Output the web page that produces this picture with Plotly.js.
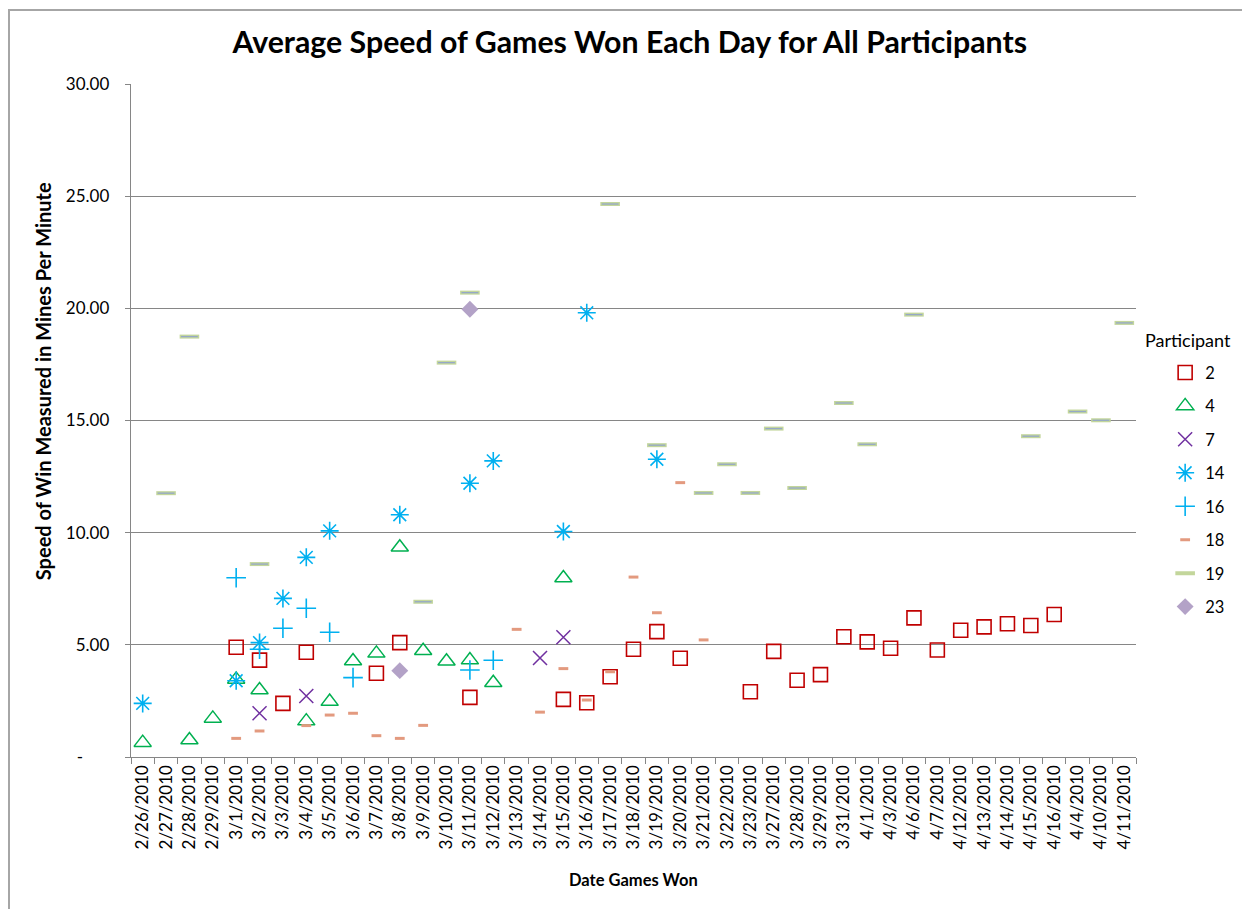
<!DOCTYPE html>
<html>
<head>
<meta charset="utf-8">
<script src="https://cdn.plot.ly/plotly-3.0.1.min.js"></script>
<style>
  html, body { margin: 0; padding: 0; background: #fff; }
  #frame { position: absolute; left: 8px; top: 9px; width: 1300px; height: 1000px;
           border-left: 2px solid #A6A6A6; border-top: 2px solid #A6A6A6; box-sizing: border-box; }
  #chart { position: absolute; left: 0; top: 0; width: 1242px; height: 909px; }
</style>
</head>
<body>
<div id="frame"></div>
<div id="chart"></div>
<script>
const categories = ["2/26/2010","2/27/2010","2/28/2010","2/29/2010","3/1/2010","3/2/2010","3/3/2010","3/4/2010","3/5/2010","3/6/2010","3/7/2010","3/8/2010","3/9/2010","3/10/2010","3/11/2010","3/12/2010","3/13/2010","3/14/2010","3/15/2010","3/16/2010","3/17/2010","3/18/2010","3/19/2010","3/20/2010","3/21/2010","3/22/2010","3/23/2010","3/27/2010","3/28/2010","3/29/2010","3/31/2010","4/1/2010","4/3/2010","4/6/2010","4/7/2010","4/12/2010","4/13/2010","4/14/2010","4/15/2010","4/16/2010","4/4/2010","4/10/2010","4/11/2010"];

const p2Dates = ["3/1/2010","3/2/2010","3/3/2010","3/4/2010","3/7/2010","3/8/2010","3/11/2010","3/15/2010","3/16/2010","3/17/2010","3/18/2010","3/19/2010","3/20/2010","3/23/2010","3/27/2010","3/28/2010","3/29/2010","3/31/2010","4/1/2010","4/3/2010","4/6/2010","4/7/2010","4/12/2010","4/13/2010","4/14/2010","4/15/2010","4/16/2010"];
const p2Values = [4.89,4.32,2.39,4.67,3.73,5.10,2.66,2.57,2.42,3.58,4.80,5.59,4.40,2.91,4.71,3.42,3.67,5.36,5.13,4.85,6.20,4.77,5.65,5.80,5.94,5.86,6.35];

const p4Dates = ["2/26/2010","2/28/2010","2/29/2010","3/1/2010","3/2/2010","3/4/2010","3/5/2010","3/6/2010","3/7/2010","3/8/2010","3/9/2010","3/10/2010","3/11/2010","3/12/2010","3/15/2010"];
const p4Values = [0.64,0.76,1.72,3.46,2.99,1.60,2.47,4.28,4.62,9.35,4.74,4.27,4.32,3.31,7.98];

const p7Dates = ["3/2/2010","3/4/2010","3/14/2010","3/15/2010"];
const p7Values = [1.95,2.72,4.41,5.34];

const p14Dates = ["2/26/2010","3/1/2010","3/2/2010","3/3/2010","3/4/2010","3/5/2010","3/8/2010","3/11/2010","3/12/2010","3/15/2010","3/16/2010","3/19/2010"];
const p14Values = [2.39,3.40,5.10,7.07,8.90,10.08,10.80,12.20,13.20,10.05,19.80,13.27];

const p16Dates = ["3/1/2010","3/2/2010","3/3/2010","3/4/2010","3/5/2010","3/6/2010","3/11/2010","3/12/2010"];
const p16Values = [7.99,4.80,5.74,6.63,5.56,3.54,3.88,4.31];

const p18Dates = ["3/1/2010","3/2/2010","3/4/2010","3/5/2010","3/6/2010","3/7/2010","3/8/2010","3/9/2010","3/13/2010","3/14/2010","3/15/2010","3/16/2010","3/17/2010","3/18/2010","3/19/2010","3/20/2010","3/21/2010"];
const p18Values = [0.83,1.16,1.40,1.87,1.95,0.95,0.83,1.41,5.69,2.00,3.94,2.54,3.80,8.02,6.43,12.23,5.22];

const p19Dates = ["2/27/2010","2/28/2010","3/2/2010","3/9/2010","3/10/2010","3/11/2010","3/17/2010","3/19/2010","3/21/2010","3/22/2010","3/23/2010","3/27/2010","3/28/2010","3/31/2010","4/1/2010","4/6/2010","4/15/2010","4/4/2010","4/10/2010","4/11/2010"];
const p19Values = [11.76,18.74,8.60,6.92,17.58,20.70,24.65,13.90,11.77,13.05,11.77,14.64,11.99,15.78,13.94,19.72,14.30,15.40,15.01,19.35];

const p23Dates = ["3/8/2010","3/11/2010"];
const p23Values = [3.85,19.96];

const yTickVals = [0,5,10,15,20,25,30];
const yTickText = ["-\u00A0\u00A0\u00A0\u00A0\u00A0\u00A0","5.00","10.00","15.00","20.00","25.00","30.00"];

const FONT = "Lato, 'Open Sans', sans-serif";

function tr(name, xs, ys, marker, extra) {
  return Object.assign({
    type: "scatter", mode: "markers", name: name, x: xs, y: ys,
    legendgroup: "g" + name, marker: marker, hoverinfo: "x+y+name"
  }, extra || {});
}

const traces = [
  tr("2", p2Dates, p2Values, {symbol: "square-open", size: 14, color: "#C00000", line: {width: 1.6, color: "#C00000"}}),
  tr("4", p4Dates, p4Values, {symbol: "triangle-up-open", size: 15, color: "#00B050", line: {width: 1.5, color: "#00B050"}}),
  tr("7", p7Dates, p7Values, {symbol: "x-thin-open", size: 14, color: "#7030A0", line: {width: 1.5, color: "#7030A0"}}),
  tr("14", p14Dates, p14Values, {symbol: "asterisk-open", size: 15, color: "#00B0F0", line: {width: 1.6, color: "#00B0F0"}}),
  tr("16", p16Dates, p16Values, {symbol: "cross-thin-open", size: 14, color: "#00B0F0", line: {width: 1.6, color: "#00B0F0"}}),
  tr("18", p18Dates, p18Values, {symbol: "line-ew-open", size: 7, color: "#E39A7F", line: {width: 3, color: "#E39A7F"}}),
  tr("19", p19Dates, p19Values, {symbol: "line-ew-open", size: 14, color: "#C3D69B", line: {width: 4, color: "#C3D69B"}}),
  tr("19b", p19Dates, p19Values, {symbol: "line-ew-open", size: 12, color: "#95A8C8", line: {width: 1.3, color: "#95A8C8"}}, {showlegend: false, legendgroup: "g19"}),
  tr("23", p23Dates, p23Values, {symbol: "diamond", size: 13, color: "#B3A2C7", line: {width: 0}})
];

const layout = {
  width: 1242, height: 909,
  paper_bgcolor: "rgba(0,0,0,0)", plot_bgcolor: "rgba(0,0,0,0)",
  margin: {l: 131, r: 104, t: 84, b: 152, pad: 0},
  font: {family: FONT, size: 16.5, color: "#000"},
  title: {text: "<b>Average Speed of Games Won Each Day for All Participants</b>",
          font: {family: FONT, size: 30.3, color: "#000"}, x: 0.507, xanchor: "center", y: 0.953, yanchor: "middle"},
  xaxis: {
    type: "category", categoryorder: "array", categoryarray: categories,
    range: [-0.5, categories.length - 0.5], tickangle: -90,
    tickson: "boundaries", ticks: "outside", ticklen: 6, tickcolor: "#868686",
    showline: true, linecolor: "#868686", linewidth: 1.3, showgrid: false, zeroline: false,
    tickfont: {family: FONT, size: 17, color: "#000"}, fixedrange: true
  },
  yaxis: {
    range: [0, 30], tickvals: yTickVals, ticktext: yTickText,
    ticks: "outside", ticklen: 5, tickcolor: "#868686", ticklabelstandoff: 12,
    showline: true, linecolor: "#868686", linewidth: 1.3,
    showgrid: true, gridcolor: "#868686", gridwidth: 1.3, zeroline: false,
    tickfont: {family: FONT, size: 17, color: "#000"}, fixedrange: true
  },
  legend: {
    x: 1.029, xanchor: "left", y: 0.597, yanchor: "top",
    font: {family: FONT, size: 16.5, color: "#000"},
    tracegroupgap: 9, itemwidth: 30, bgcolor: "rgba(0,0,0,0)"
  },
  annotations: [
    {text: "Participant", xref: "paper", yref: "paper",
     x: (1145 - 131) / 1007, y: (757 - 340) / 673, xanchor: "left", yanchor: "middle",
     showarrow: false, font: {family: FONT, size: 18, color: "#000"}},
    {text: "<b>Speed of Win Measured in Mines Per Minute</b>", textangle: -90,
     xref: "paper", yref: "paper", x: (43 - 131) / 1007, y: (757 - 381) / 673,
     xanchor: "center", yanchor: "middle", showarrow: false,
     font: {family: FONT, size: 20, color: "#000"}},
    {text: "<b>Date Games Won</b>",
     xref: "paper", yref: "paper", x: (634 - 131) / 1007, y: (757 - 880) / 673,
     xanchor: "center", yanchor: "middle", showarrow: false,
     font: {family: FONT, size: 16.5, color: "#000"}}
  ]
};

Plotly.newPlot("chart", traces, layout, {displayModeBar: false, staticPlot: true});
</script>
</body>
</html>
